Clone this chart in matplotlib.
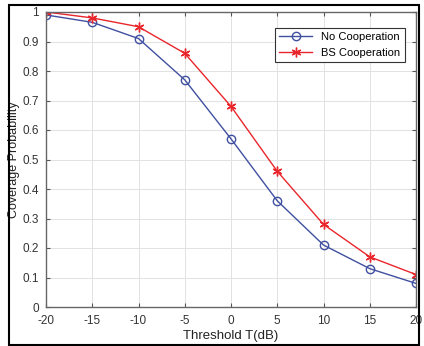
import matplotlib.pyplot as plt
from matplotlib.patches import Rectangle

threshold = [-20, -15, -10, -5, 0, 5, 10, 15, 20]
no_coop = [0.99, 0.965, 0.91, 0.77, 0.57, 0.36, 0.21, 0.13, 0.08]
bs_coop = [1.0, 0.98, 0.95, 0.86, 0.68, 0.46, 0.28, 0.17, 0.11]

plt.rcParams['font.family'] = 'Liberation Sans'

fig = plt.figure(figsize=(4.24, 3.46), dpi=100)
ax = fig.add_axes([46/424, 1 - 307/346, (416-46)/424, (307-12)/346])

ax.plot(threshold, no_coop, color='#4050a0', marker='o', markersize=6,
        markerfacecolor='none', linewidth=1, label='No Cooperation')
ax.plot(threshold, bs_coop, color='#e8262b', marker=(6, 2, 0), markersize=7,
        linewidth=1, label='BS Cooperation')

ax.set_xlim(-20, 20)
ax.set_ylim(0, 1)
ax.set_xticks(threshold)
ax.set_xticklabels(['-20', '-15', '-10', '-5', '0', '5', '10', '15', '20'])
ax.set_yticks([0, 0.1, 0.2, 0.3, 0.4, 0.5, 0.6, 0.7, 0.8, 0.9, 1])
ax.set_yticklabels(['0', '0.1', '0.2', '0.3', '0.4', '0.5', '0.6', '0.7', '0.8', '0.9', '1'])
ax.tick_params(labelsize=8.5, direction='in', top=True, right=True, length=3,
               colors='#555555', labelcolor='#333333')
ax.tick_params(axis='x', pad=6)
ax.tick_params(axis='y', pad=5)
ax.grid(True, color='#e2e2e2', linewidth=0.7)
for s in ax.spines.values():
    s.set_color('#666666')
    s.set_linewidth(1)

ax.set_xlabel('Threshold T(dB)', fontsize=9.5, labelpad=2, color='#222222')
ax.set_ylabel('Coverage Probability', fontsize=9, color='#222222')
ax.yaxis.set_label_coords(-26/370, 0.5)

leg = ax.legend(loc='upper right', fontsize=8, fancybox=False, framealpha=1,
                edgecolor='#333333', borderpad=0.4, handlelength=3,
                bbox_to_anchor=(0.985, 0.965))
leg.get_frame().set_linewidth(0.8)

fig.patches.append(Rectangle((9/424, 1/346), (419-9)/424, (341-1)/346,
                             transform=fig.transFigure, fill=False,
                             edgecolor='black', linewidth=1.5))

fig.savefig('out.png', dpi=100)
